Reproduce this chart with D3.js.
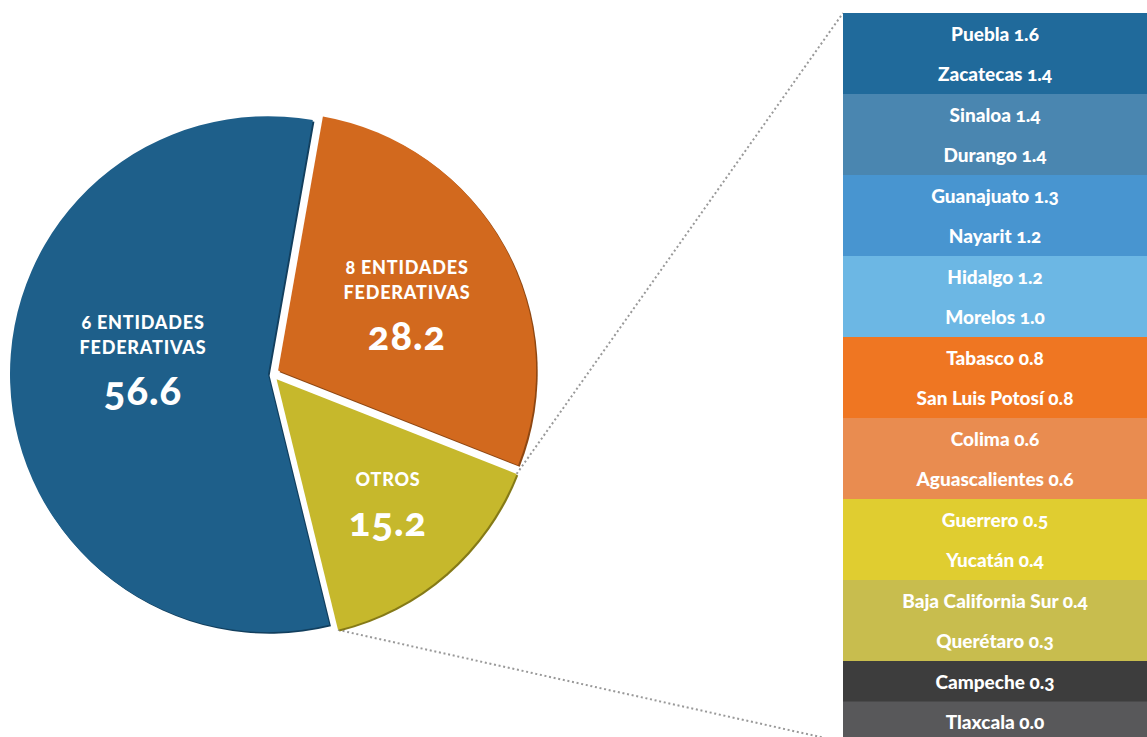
<!doctype html>
<html>
<head>
<meta charset="utf-8">
<script src="https://d3js.org/d3.v7.min.js"></script>
<style>
  body { margin: 0; background: #fff; }
  svg text { font-family: Lato, "Open Sans", sans-serif; fill: #fff; font-variant-numeric: oldstyle-nums; }
</style>
</head>
<body>
<svg id="chart" width="1147" height="737"></svg>
<script>
// pie slices (clockwise from the top, starting with the orange one)
var sliceLines = [["8 ENTIDADES", "FEDERATIVAS"], ["OTROS"], ["6 ENTIDADES", "FEDERATIVAS"]];
var sliceValues = [28.2, 15.2, 56.6];
var sliceColors = ["#d2691e", "#c6b82c", "#1e5f8a"];
var sliceShadows = ["#8e4712", "#857a17", "#123f5e"];

// breakdown of "OTROS"
var states = ["Puebla", "Zacatecas", "Sinaloa", "Durango", "Guanajuato", "Nayarit",
  "Hidalgo", "Morelos", "Tabasco", "San Luis Potosí", "Colima", "Aguascalientes",
  "Guerrero", "Yucatán", "Baja California Sur", "Querétaro", "Campeche", "Tlaxcala"];
var stateValues = [1.6, 1.4, 1.4, 1.4, 1.3, 1.2, 1.2, 1.0, 0.8, 0.8, 0.6, 0.6, 0.5, 0.4, 0.4, 0.3, 0.3, 0.0];
var stateColors = ["#206a9b", "#206a9b", "#4a86b0", "#4a86b0", "#4895d0", "#4895d0",
  "#6cb7e4", "#6cb7e4", "#ef7622", "#ef7622", "#e98c50", "#e98c50",
  "#e0cd30", "#e0cd30", "#c8bd4e", "#c8bd4e", "#3d3d3d", "#58585a"];

var svg = d3.select("#chart");
var cx = 272, cy = 374, r = 258;
var explode = [7, 7, 4];
var labelPos = [[407, 302], [388, 500], [143, 357]];

var pie = d3.pie().sort(null).value(function(d) { return d; })
  .startAngle(10 * Math.PI / 180).endAngle(10 * Math.PI / 180 + 2 * Math.PI);
var arc = d3.arc().innerRadius(0).outerRadius(r);
var arcs = pie(sliceValues);

function offset(d, i) {
  var a = (d.startAngle + d.endAngle) / 2;
  return [cx + explode[i] * Math.sin(a), cy - explode[i] * Math.cos(a)];
}

// bar on the right
var y = d3.scaleBand().domain(states).range([13, 742]);
var barX = 843, barW = 304;

// dotted connectors from the "OTROS" slice to the bar
var ot = arcs[1], o1 = offset(ot, 1);
var p1 = [o1[0] + r * Math.sin(ot.startAngle), o1[1] - r * Math.cos(ot.startAngle)];
var p2 = [o1[0] + r * Math.sin(ot.endAngle), o1[1] - r * Math.cos(ot.endAngle)];
svg.append("g").selectAll("line")
  .data([[p1, [barX, y.range()[0]]], [p2, [barX, y.range()[1]]]])
  .enter().append("line")
  .attr("x1", function(d) { return d[0][0]; })
  .attr("y1", function(d) { return d[0][1]; })
  .attr("x2", function(d) { return d[1][0]; })
  .attr("y2", function(d) { return d[1][1]; })
  .attr("stroke", "#999")
  .attr("stroke-width", 2)
  .attr("stroke-dasharray", "2 2.7");

// pie
var slices = svg.append("g").selectAll("g")
  .data(arcs)
  .enter().append("g")
  .attr("transform", function(d, i) { var o = offset(d, i); return "translate(" + o[0] + "," + o[1] + ")"; });

slices.append("path")
  .attr("d", arc)
  .attr("transform", "translate(1.6,1.6)")
  .attr("fill", function(d, i) { return sliceShadows[i]; });
slices.append("path")
  .attr("d", arc)
  .attr("fill", function(d, i) { return sliceColors[i]; });

// pie labels
var lab = svg.append("g").selectAll("g")
  .data(arcs)
  .enter().append("g")
  .attr("transform", function(d, i) { return "translate(" + labelPos[i][0] + "," + labelPos[i][1] + ")"; });

lab.each(function(d, i) {
  var g = d3.select(this);
  var lines = sliceLines[i];
  var top = lines.length === 2 ? -35 : -21;
  lines.forEach(function(t, k) {
    g.append("text")
      .attr("y", top + k * 25)
      .attr("text-anchor", "middle")
      .attr("dominant-baseline", "central")
      .style("font-size", "18px")
      .style("font-weight", 900)
      .style("letter-spacing", "0.8px")
      .text(t);
  });
  g.append("text")
    .attr("y", lines.length === 2 ? 33 : 21)
    .attr("text-anchor", "middle")
    .attr("dominant-baseline", "central")
    .style("font-size", "40px")
    .style("font-weight", 900)
    .style("letter-spacing", "1px")
    .text(d3.format(".1f")(d.data));
});

// bar rows
var rows = svg.append("g").selectAll("g")
  .data(states)
  .enter().append("g")
  .attr("transform", function(d) { return "translate(" + barX + "," + y(d) + ")"; });

rows.append("rect")
  .attr("width", barW)
  .attr("height", y.bandwidth() + 0.5)
  .attr("fill", function(d, i) { return stateColors[i]; });

rows.append("text")
  .attr("x", barW / 2)
  .attr("y", y.bandwidth() / 2)
  .attr("text-anchor", "middle")
  .attr("dominant-baseline", "central")
  .style("font-size", "19px")
  .style("font-weight", 900)
  .text(function(d, i) { return d + " " + d3.format(".1f")(stateValues[i]); });
</script>
</body>
</html>
